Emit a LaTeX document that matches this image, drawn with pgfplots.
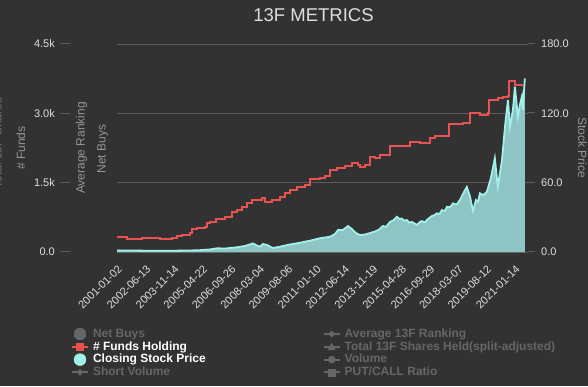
\documentclass[border=0pt]{standalone}
\usepackage{pgfplots}
\usepackage{pgfplotstable}
\pgfplotsset{compat=1.18}
\usepackage{fontspec}
\setmainfont{Liberation Sans}
\definecolor{bg}{RGB}{50,50,50}
\definecolor{gridc}{RGB}{92,92,92}
\definecolor{ticktext}{RGB}{222,222,222}
\definecolor{labgray}{RGB}{150,150,150}
\definecolor{dim}{RGB}{102,102,102}
\definecolor{fundred}{RGB}{232,82,82}
\definecolor{pricefill}{RGB}{142,197,196}
\definecolor{priceline}{RGB}{163,240,234}
\definecolor{totalbrown}{RGB}{125,108,88}

\pgfplotstableread{
year funds
2001.00 331
2001.25 318
2001.50 281
2002.26 296
2003.17 288
2003.32 275
2003.77 296
2004.02 346
2004.27 368
2004.68 404
2004.78 491
2005.03 526
2005.43 534
2005.53 634
2005.68 655
2005.98 714
2006.44 751
2006.79 872
2007.04 908
2007.29 980
2007.55 1053
2007.80 1125
2008.30 1162
2008.45 1088
2008.80 1125
2009.21 1196
2009.46 1270
2009.71 1341
2010.06 1412
2010.47 1449
2010.72 1572
2011.22 1594
2011.47 1644
2011.73 1774
2012.08 1823
2012.48 1860
2012.83 1919
2013.14 1882
2013.24 1845
2013.49 1882
2013.74 2061
2013.99 2027
2014.24 2098
2014.75 2293
2015.75 2386
2016.26 2351
2016.76 2459
2017.01 2509
2017.72 2769
2018.42 2784
2018.77 3000
2019.28 2963
2019.68 3000
2019.73 3288
2020.18 3324
2020.44 3359
2020.69 3374
2020.74 3699
2021.04 3612
2021.44 3612
}\fundstable

\pgfplotstableread{
year price
2001.00 1.3
2001.65 1.3
2002.66 1.1
2003.67 1.1
2004.68 1.3
2005.18 1.6
2005.68 2.2
2006.04 3.2
2006.44 3.0
2007.04 4.1
2007.44 5.2
2007.85 7.4
2008.05 5.6
2008.20 4.6
2008.35 6.9
2008.55 6.1
2008.85 3.5
2009.21 4.6
2009.71 6.5
2010.21 8.0
2010.72 9.8
2011.22 11.9
2011.73 13.2
2011.98 15.6
2012.13 19.0
2012.38 19.0
2012.63 22.5
2012.83 19.9
2013.03 16.4
2013.24 14.7
2013.49 15.1
2013.74 16.4
2013.99 17.7
2014.20 19.5
2014.39 22.5
2014.55 21.8
2014.75 26.0
2014.92 27.5
2015.10 30.5
2015.22 28.6
2015.35 29.0
2015.48 26.9
2015.60 27.7
2015.72 25.4
2015.85 26.0
2016.11 23.4
2016.25 25.9
2016.36 26.8
2016.50 25.6
2016.61 27.7
2016.72 29.4
2016.86 31.2
2017.00 32.0
2017.11 33.5
2017.25 33.0
2017.36 36.3
2017.50 35.4
2017.62 39.2
2017.78 38.8
2017.92 42.1
2018.10 41.0
2018.27 45.0
2018.47 51.9
2018.62 56.3
2018.77 48.5
2018.93 35.5
2019.08 45.0
2019.18 43.5
2019.28 50.8
2019.45 49.2
2019.63 52.2
2019.83 64.0
2020.03 81.1
2020.18 56.5
2020.39 79.6
2020.54 108.4
2020.69 131.5
2020.79 108.4
2020.94 122.9
2021.04 143.1
2021.19 117.1
2021.30 128.0
2021.39 134.4
2021.44 122.9
2021.54 150.3
}\pricetable

\pgfplotsset{
  base/.style={
    at={(117pt,134pt)}, anchor=south west,
    scale only axis, width=411pt, height=208pt,
    xmin=2001, xmax=2021.70,
    axis line style={draw=none},
    major tick length=0pt,
    /pgf/number format/assume math mode=true,
  },
  legbase/.style={
    legend cell align=left,
    legend style={anchor=north west, draw=none, fill=none, inner sep=0pt, outer sep=0pt,
      text=white, font=\bfseries\fontsize{12}{12}\selectfont,
      nodes={inner xsep=4pt, inner ysep=0.65pt, text height=9pt, text depth=2.5pt},
      row sep=0pt},
  },
}

\begin{document}
\begin{tikzpicture}
\fill[bg] (0pt,0pt) rectangle (588pt,386pt);
\useasboundingbox (0pt,0pt) rectangle (588pt,386pt);

% price axis (right)
\begin{axis}[base, legbase,
  ymin=0, ymax=180,
  ytick={0,60,120,180},
  yticklabels={{\textcolor{gridc}{\rule[0.33em]{7pt}{1pt}}\hspace{6pt}0.0},
               {\textcolor{gridc}{\rule[0.33em]{7pt}{1pt}}\hspace{6pt}60.0},
               {\textcolor{gridc}{\rule[0.33em]{7pt}{1pt}}\hspace{6pt}120.0},
               {\textcolor{gridc}{\rule[0.33em]{7pt}{1pt}}\hspace{6pt}180.0}},
  yticklabel pos=right,
  yticklabel style={anchor=west, inner sep=0pt, font=\fontsize{11}{13}\selectfont, text=ticktext},
  ymajorgrids, grid style={gridc, line width=1pt},
  xtick={2001.003,2002.447,2003.870,2005.305,2006.734,2008.172,2009.595,2011.025,2012.451,2013.882,2015.321,2016.745,2018.178,2019.611,2021.036},
  xticklabels={2001-01-02,2002-06-13,2003-11-14,2005-04-22,2006-09-26,2008-03-04,2009-08-06,2011-01-10,2012-06-14,2013-11-19,2015-04-28,2016-09-29,2018-03-07,2019-08-12,2021-01-14},
  xticklabel style={xshift=3pt, yshift=-15pt, rotate=45, anchor=east, inner sep=0pt,
    font=\fontsize{11}{13}\selectfont, text=ticktext},
  legend style={at={(-0.1119,-0.3635)}},
]
\addplot[fill=pricefill, draw=none, forget plot] table[x=year, y=price] {\pricetable} \closedcycle;
\addplot[priceline, line width=1.8pt, forget plot] table[x=year, y=price] {\pricetable};
\addlegendimage{legend image code/.code={\fill[dim] (8pt,0pt) circle (6pt);}}
\addlegendentry{\textcolor{dim}{Net Buys}}
\addlegendimage{legend image code/.code={\draw[fundred, line width=2pt] (0pt,0pt) -- (16pt,0pt); \fill[fundred] (4.5pt,-3.5pt) rectangle (11.5pt,3.5pt);}}
\addlegendentry{\# Funds Holding}
\addlegendimage{legend image code/.code={\fill[priceline] (8pt,0pt) circle (6pt);}}
\addlegendentry{Closing Stock Price}
\addlegendimage{legend image code/.code={\draw[dim, line width=2pt] (0pt,0pt) -- (16pt,0pt); \fill[dim] (8pt,-3pt) -- (11pt,0pt) -- (8pt,3pt) -- (5pt,0pt) -- cycle;}}
\addlegendentry{\textcolor{dim}{Short Volume}}
\end{axis}

% funds axis (left)
\begin{axis}[base, legbase,
  ymin=0, ymax=4500,
  xtick=\empty,
  ytick={0,1500,3000,4500},
  yticklabels={{0.0\hspace{5pt}\textcolor{gridc}{\rule[0.33em]{10pt}{1pt}}},
               {1.5k\hspace{5pt}\textcolor{gridc}{\rule[0.33em]{10pt}{1pt}}},
               {3.0k\hspace{5pt}\textcolor{gridc}{\rule[0.33em]{10pt}{1pt}}},
               {4.5k\hspace{5pt}\textcolor{gridc}{\rule[0.33em]{10pt}{1pt}}}},
  yticklabel style={anchor=east, inner sep=0pt, xshift=-47pt, font=\fontsize{11}{13}\selectfont, text=ticktext},
  legend style={at={(0.5005,-0.3635)}},
]
\addplot[fundred, line width=1.8pt, const plot, forget plot] table[x=year, y=funds] {\fundstable};
\addlegendimage{legend image code/.code={\draw[dim, line width=2pt] (0pt,0pt) -- (16pt,0pt); \fill[dim] (8pt,-3pt) -- (11pt,0pt) -- (8pt,3pt) -- (5pt,0pt) -- cycle;}}
\addlegendentry{\textcolor{dim}{Average 13F Ranking}}
\addlegendimage{legend image code/.code={\draw[dim, line width=2pt] (0pt,0pt) -- (16pt,0pt); \fill[dim] (4.5pt,-3pt) -- (11.5pt,-3pt) -- (8pt,3.5pt) -- cycle;}}
\addlegendentry{\textcolor{dim}{Total 13F Shares Held(split-adjusted)}}
\addlegendimage{legend image code/.code={\draw[dim, line width=2pt] (0pt,0pt) -- (16pt,0pt); \fill[dim] (8pt,0pt) circle (3.5pt);}}
\addlegendentry{\textcolor{dim}{Volume}}
\addlegendimage{legend image code/.code={\draw[dim, line width=2pt] (0pt,0pt) -- (16pt,0pt); \fill[dim] (4.5pt,-3.5pt) rectangle (11.5pt,3.5pt);}}
\addlegendentry{\textcolor{dim}{PUT/CALL Ratio}}
\end{axis}

% title and axis titles
\node[font=\fontsize{18.5}{20}\selectfont, text=ticktext] at (313.5pt,371pt) {13F METRICS};
\node[rotate=90, anchor=base, font=\fontsize{12}{14}\selectfont, text=totalbrown] at (1.5pt,243pt) {Total 13F Shares};
\node[rotate=90, anchor=base, font=\fontsize{12}{14}\selectfont, text=labgray] at (25pt,238pt) {\# Funds};
\node[rotate=90, anchor=base, font=\fontsize{12}{14}\selectfont, text=labgray] at (84.5pt,238pt) {Average Ranking};
\node[rotate=90, anchor=base, font=\fontsize{12}{14}\selectfont, text=labgray] at (105.5pt,237pt) {Net Buys};
\node[rotate=-90, anchor=base, font=\fontsize{12}{14}\selectfont, text=labgray] at (578pt,238.5pt) {Stock Price};
\end{tikzpicture}
\end{document}
